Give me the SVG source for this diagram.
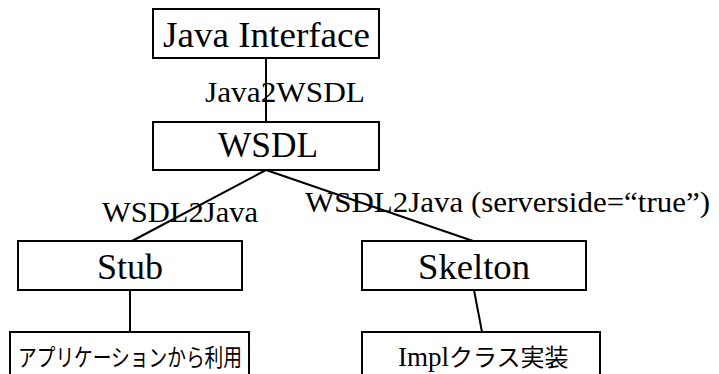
<svg xmlns="http://www.w3.org/2000/svg" width="719" height="374" viewBox="0 0 719 374">
<style>
.box{fill:#fff;stroke:#000;stroke-width:2}
.ln{stroke:#000;stroke-width:2;fill:none}
.t{font-family:"Liberation Serif","Times New Roman",serif;fill:#000}
.j{font-family:"Noto Sans CJK JP","Noto Sans",sans-serif;fill:#000}
</style>
<rect width="719" height="374" fill="#fff"/>
<g id="connectors">
<line class="ln" x1="266" y1="58" x2="266" y2="122"/>
<line class="ln" x1="266" y1="170" x2="132" y2="241"/>
<line class="ln" x1="266" y1="170" x2="473" y2="241"/>
<line class="ln" x1="130" y1="290" x2="130" y2="332"/>
<line class="ln" x1="474" y1="290" x2="482" y2="332"/>
</g>
<g id="java-interface">
<rect class="box" x="153" y="9" width="226" height="49"/>
<text class="t" x="163" y="47" font-size="36" textLength="207" lengthAdjust="spacingAndGlyphs">Java Interface</text>
</g>
<g id="label-java2wsdl">
<text class="t" x="205" y="102" font-size="30" textLength="160" lengthAdjust="spacingAndGlyphs">Java2WSDL</text>
</g>
<g id="wsdl">
<rect class="box" x="153" y="122" width="226" height="48"/>
<text class="t" x="218" y="157" font-size="35" textLength="100" lengthAdjust="spacingAndGlyphs">WSDL</text>
</g>
<g id="label-wsdl2java">
<text class="t" x="102" y="222" font-size="30" textLength="156" lengthAdjust="spacingAndGlyphs">WSDL2Java</text>
</g>
<g id="label-wsdl2java-server">
<text class="t" x="305" y="212" font-size="30" textLength="405" lengthAdjust="spacingAndGlyphs">WSDL2Java (serverside=“true”)</text>
</g>
<g id="stub">
<rect class="box" x="18" y="241" width="224" height="49"/>
<text class="t" x="97" y="279" font-size="36" textLength="66" lengthAdjust="spacingAndGlyphs">Stub</text>
</g>
<g id="skelton">
<rect class="box" x="362" y="241" width="224" height="49"/>
<text class="t" x="418" y="279" font-size="36" textLength="112" lengthAdjust="spacingAndGlyphs">Skelton</text>
</g>
<g id="app-use">
<rect class="box" x="10" y="332" width="239" height="60"/>
<text class="j" x="18" y="366" font-size="24" textLength="224" lengthAdjust="spacingAndGlyphs">アプリケーションから利用</text>
</g>
<g id="impl">
<rect class="box" x="362" y="332" width="238" height="60"/>
<text x="398" y="366"><tspan class="t" font-size="27">Impl</tspan><tspan class="j" font-size="24">クラス実装</tspan></text>
</g>
</svg>
